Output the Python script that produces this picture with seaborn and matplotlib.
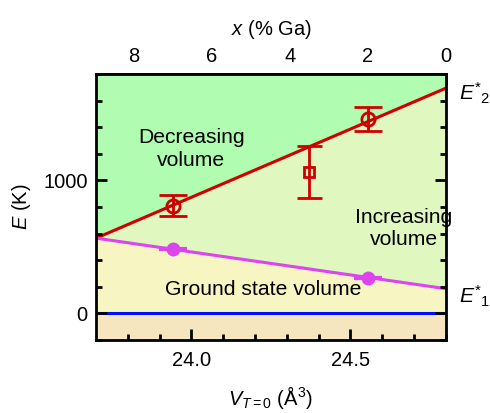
import matplotlib
matplotlib.use("Agg")
import matplotlib.pyplot as plt
import seaborn as sns
import numpy as np

# fitted lines, given at the two ends of the volume range
v_line = [23.7, 24.8]
e2_line = [565, 1693]
e1_line = [565, 185]

# measured points, placed by Ga content (%)
ga_circ = [7, 2]
e2_circ = [810, 1460]
e2_circ_err = [80, 90]
ga_sq = [3.5]
e2_sq = [1065]
e2_sq_err = [195]
ga_e1 = [7, 2]
e1_pts = [480, 268]
v_e1_err = [0.045, 0.045]

ylim = (-200, 1800)


def ga_to_v(x):
    return 24.8 - 0.1226 * np.asarray(x, dtype=float)


def v_to_ga(v):
    return (24.8 - np.asarray(v, dtype=float)) / 0.1226


sns.set_style("ticks")
plt.rcParams['font.family'] = ['Liberation Sans', 'DejaVu Sans']
plt.rcParams['mathtext.fontset'] = 'custom'
plt.rcParams['mathtext.rm'] = 'Liberation Sans'
plt.rcParams['mathtext.it'] = 'Liberation Sans:italic'
plt.rcParams['text.color'] = 'black'
plt.rcParams['axes.labelcolor'] = 'black'
plt.rcParams['xtick.color'] = 'black'
plt.rcParams['ytick.color'] = 'black'

red = "#d00000"
mag = "#dd44f0"

fig = plt.figure(figsize=(4.9, 4.13), dpi=100)
ax = fig.add_axes([0.196, 0.177, 0.714, 0.644])
ax.set_axisbelow(False)

# background regions
vx = np.array(v_line)
ax.fill_between(vx, ylim[0], 0, color="#f6e6c0", lw=0, zorder=0.1)
ax.fill_between(vx, 0, e1_line, color="#f7f5c2", lw=0, zorder=0.1)
ax.fill_between(vx, e1_line, e2_line, color="#e0f7c0", lw=0, zorder=0.1)
ax.fill_between(vx, e2_line, ylim[1], color="#b0fcb0", lw=0, zorder=0.1)

ax.axhline(0, color="#0010ff", lw=2.2)
sns.lineplot(x=v_line, y=e2_line, ax=ax, color=red, lw=2.2)
sns.lineplot(x=v_line, y=e1_line, ax=ax, color=mag, lw=2.2)

ax.errorbar(ga_to_v(ga_circ), e2_circ, yerr=e2_circ_err, fmt='o', ms=9.5,
            mfc='none', mec=red, mew=2, ecolor=red, elinewidth=2,
            capsize=10, capthick=2, zorder=5)
ax.errorbar(ga_to_v(ga_sq), e2_sq, yerr=e2_sq_err, fmt='s', ms=7,
            mfc='none', mec=red, mew=2, ecolor=red, elinewidth=2,
            capsize=9, capthick=2, zorder=5)
ax.errorbar(ga_to_v(ga_e1), e1_pts, xerr=v_e1_err, fmt='o', ms=9,
            mfc=mag, mec=mag, ecolor=mag, elinewidth=3, capsize=0, zorder=5)

fs = 14.5
ts = 15.2
ax.text(24.0, 1238, "Decreasing\nvolume", ha='center', va='center', fontsize=ts,
        linespacing=1.25)
ax.text(24.668, 638, "Increasing\nvolume", ha='center', va='center', fontsize=ts,
        linespacing=1.25)
ax.text(24.224, 176, "Ground state volume", ha='center', va='center', fontsize=ts)
ax.text(24.84, 1598, r"$E^{*}{}_{2}$", ha='left', va='baseline', fontsize=ts,
        clip_on=False)
ax.text(24.84, 75, r"$E^{*}{}_{1}$", ha='left', va='baseline', fontsize=ts,
        clip_on=False)

ax.set_xlim(v_line)
ax.set_ylim(ylim)
ax.set_xticks([24.0, 24.5])
ax.set_xticklabels(["24.0", "24.5"])
ax.set_xticks(np.arange(23.8, 24.81, 0.1), minor=True)
ax.set_yticks([0, 1000])
ax.set_yticks(np.arange(-200, 1801, 200), minor=True)
ax.tick_params(axis='x', which='both', bottom=True, top=False)
ax.tick_params(axis='y', which='both', left=True, right=True, labelright=False)
ax.tick_params(which='both', direction='in', width=2, labelsize=fs)
ax.tick_params(which='major', length=8)
ax.tick_params(which='minor', length=4)
ax.tick_params(axis='x', pad=8)
ax.tick_params(axis='y', pad=6)

sec = ax.secondary_xaxis('top', functions=(v_to_ga, ga_to_v))
sec.set_xticks([0, 2, 4, 6, 8])
sec.set_xticks(np.arange(0, 9, 1), minor=True)
sec.tick_params(which='both', direction='in', width=2, labelsize=fs, pad=6)
sec.tick_params(which='major', length=8)
sec.tick_params(which='minor', length=4)
sec.set_xlabel(r"$x$ (% Ga)", fontsize=fs, labelpad=8)
sec.spines['top'].set_color('black')
sec.spines['top'].set_linewidth(2)

ax.set_ylabel(r"$E$ (K)", fontsize=fs, labelpad=7)
ax.set_xlabel(r"$V_{T=0}$ (Å$^3$)", fontsize=fs, labelpad=10)

for s in ax.spines.values():
    s.set_visible(True)
    s.set_color('black')
    s.set_linewidth(2)
    s.set_zorder(6)

fig.savefig("out.png", dpi=100)
